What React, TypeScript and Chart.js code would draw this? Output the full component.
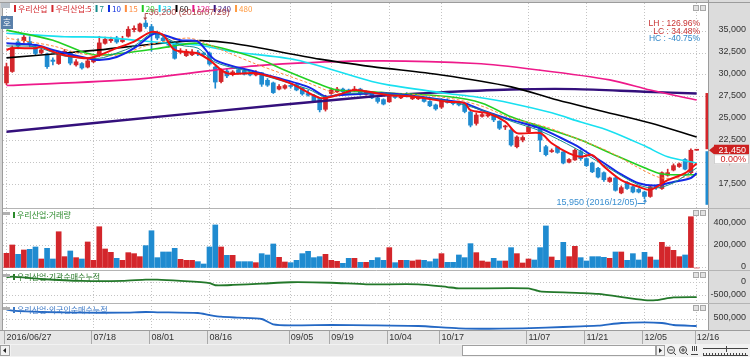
import React, { useEffect, useRef } from "react";
import { Chart, registerables } from "chart.js";

Chart.register(...registerables);

/* ================= data ================= */
const dateTickIndex = [0, 15, 25, 35, 49, 56, 66, 75, 90, 100, 110, 119];
const dateTickLabels = ["2016/06/27", "07/18", "08/01", "08/16", "09/05", "09/19", "10/04", "10/17", "11/07", "11/21", "12/05", "12/16"];

const opens = [29100, 30400, 33750, 33900, 33800, 33200, 32550, 32300, 31700, 31300,
  32400, 32500, 31150, 31300, 30900, 31500, 32200, 33600, 33900, 34200,
  33800, 34400, 35150, 35000, 35900, 35500, 34700, 34200, 33900, 33700,
  32600, 32200, 32300, 32600, 32500, 32500, 30900, 29250, 30450, 30050,
  30600, 30500, 30200, 30000, 30250, 29400, 29100, 28400, 28500, 28800,
  28900, 28500, 27900, 27700, 27350, 26100, 27900, 28100, 28400, 28300,
  28200, 28400, 27800, 28000, 27400, 27200, 26950, 27600, 27400, 27900,
  27300, 27300, 27350, 27000, 26600, 26350, 27150, 26900, 26850, 26650,
  25800, 24500, 25300, 25350, 25500, 24750, 24100, 23750, 21850, 22600,
  23550, 24300, 23900, 21850, 21300, 21800, 21250, 20100, 20350, 21300,
  20500, 20000, 19400, 18900, 17900, 18300, 16600, 17800, 17300, 17000,
  16700, 16200, 17400, 17100, 18600, 19200, 19600, 20400, 18900, 21450];

const highs = [31350, 33300, 34100, 34500, 34350, 33500, 33000, 32500, 31950, 32700,
  32900, 32700, 31750, 31400, 31800, 32100, 34400, 34300, 34300, 34400,
  34400, 35500, 35600, 35900, 36200, 35750, 35000, 34500, 34000, 33800,
  33000, 32900, 32900, 32800, 32600, 32600, 31000, 30700, 30700, 30500,
  30800, 30600, 30300, 30500, 30300, 29600, 29200, 28900, 28900, 28900,
  29000, 28600, 28300, 27800, 27400, 27700, 28400, 28600, 28500, 28400,
  28700, 28500, 28200, 28100, 27500, 27300, 27700, 27700, 27700, 28000,
  27800, 27600, 27400, 27100, 26700, 27300, 27300, 27000, 27000, 26800,
  25900, 25700, 25700, 25600, 25600, 24800, 24300, 23900, 23100, 23100,
  24300, 24500, 24000, 22000, 21600, 21900, 21300, 20500, 21600, 21500,
  20600, 20100, 19500, 19000, 18400, 18400, 17400, 17900, 17400, 17100,
  16800, 17400, 17500, 19000, 19300, 19900, 20000, 20500, 21600, 21450];

const lows = [28900, 30300, 32950, 33700, 33200, 32300, 32400, 30750, 31150, 31200,
  32200, 31150, 31000, 30650, 30800, 31400, 32100, 33500, 33700, 33600,
  33700, 34300, 34900, 34900, 35300, 32700, 34000, 33700, 33200, 31800,
  32400, 32100, 32200, 32200, 32100, 31100, 28500, 29100, 29700, 29900,
  30100, 30000, 29900, 29900, 28700, 28700, 27900, 28300, 28400, 28500,
  28200, 27700, 27600, 26900, 25800, 25900, 27800, 28000, 27900, 27800,
  28100, 27700, 27700, 27300, 26800, 26600, 26900, 27350, 27300, 27500,
  27200, 27200, 26900, 26400, 26000, 26200, 26800, 26600, 26500, 25700,
  24100, 24300, 25200, 25200, 24700, 23800, 23800, 21900, 21700, 22400,
  23400, 24000, 21300, 20800, 21200, 21100, 19900, 20000, 20300, 20300,
  19600, 18900, 18300, 17900, 17800, 16800, 16500, 17000, 16600, 16600,
  15950, 16100, 17000, 17000, 18500, 19100, 19500, 19200, 18800, 21450];

const closes = [30950, 33100, 33300, 34300, 33450, 32450, 32850, 30950, 31550, 32500,
  32700, 31350, 31500, 30800, 31600, 31900, 33650, 34050, 34050, 33750,
  34000, 35200, 35300, 35800, 35500, 34600, 34200, 33900, 33400, 31900,
  32700, 32700, 32600, 32400, 32300, 31250, 29200, 30550, 29900, 30350,
  30200, 30100, 30000, 30300, 28950, 28850, 28000, 28700, 28800, 28700,
  28300, 27850, 27700, 27000, 26050, 27550, 28300, 28400, 28100, 27950,
  28400, 27850, 28050, 27400, 27000, 26700, 27550, 27450, 27550, 27600,
  27650, 27400, 27000, 26500, 26150, 27150, 26900, 26750, 26600, 25850,
  24300, 25450, 25500, 25500, 24900, 23950, 24150, 22050, 22950, 22900,
  24100, 24200, 22600, 20950, 21350, 21200, 20000, 20400, 21450, 20500,
  19700, 19000, 18400, 18100, 18300, 16900, 17200, 17100, 16700, 16700,
  16200, 17300, 17200, 18900, 18900, 19700, 19900, 19300, 21450, 21450];

const volumes = [132000, 207000, 123000, 162000, 168000, 189000, 81000, 177000, 81000, 326000,
  102000, 153000, 93000, 81000, 234000, 69000, 371000, 171000, 141000, 87000,
  69000, 138000, 129000, 102000, 201000, 335000, 93000, 144000, 144000, 177000,
  78000, 69000, 69000, 57000, 36000, 189000, 387000, 189000, 114000, 114000,
  57000, 57000, 57000, 48000, 129000, 117000, 216000, 96000, 54000, 48000,
  69000, 129000, 150000, 93000, 102000, 123000, 69000, 60000, 42000, 87000,
  87000, 51000, 51000, 69000, 93000, 69000, 183000, 48000, 69000, 69000,
  63000, 72000, 69000, 57000, 81000, 129000, 51000, 51000, 117000, 93000,
  219000, 138000, 63000, 54000, 87000, 63000, 63000, 183000, 129000, 45000,
  81000, 72000, 183000, 378000, 99000, 69000, 231000, 102000, 195000, 93000,
  63000, 102000, 102000, 96000, 87000, 144000, 144000, 69000, 129000, 72000,
  141000, 99000, 72000, 231000, 189000, 159000, 102000, 117000, 461000, 0];

// moving averages: [day index, price]
const ma5 = [[0, 32850], [1, 33050], [5, 33050], [6, 33200], [8, 32650], [10, 32250], [14, 31900], [16, 32250], [19, 33050], [22, 33800], [25, 34900], [27, 34550], [29, 32850], [33, 32450], [35, 31700], [38, 30200], [43, 30200], [49, 29050], [54, 27400], [57, 27700], [60, 28300], [64, 27900], [66, 27700], [70, 27550], [76, 26950], [79, 26800], [80, 26000], [83, 25650], [86, 24700], [88, 23400], [92, 23400], [94, 22250], [97, 21100], [99, 20700], [101, 20900], [103, 19600], [106, 18050], [109, 17300], [111, 16950], [114, 18050], [117, 18850], [119, 19950]];
const ma7 = [[0, 33300], [5, 33200], [10, 32150], [16, 31900], [19, 32500], [22, 33300], [25, 34750], [26, 34750], [30, 33400], [33, 33050], [36, 31450], [43, 30200], [52, 28400], [55, 27500], [58, 27900], [66, 27850], [76, 27050], [82, 26000], [87, 24750], [92, 23650], [98, 21700], [103, 19750], [109, 17500], [112, 17150], [115, 17750], [119, 19450]];
const ma10 = [[0, 33600], [5, 33400], [8, 32850], [13, 32050], [16, 31700], [19, 32050], [22, 33050], [25, 34550], [26, 34750], [30, 33950], [33, 33800], [36, 31700], [43, 30350], [52, 28650], [55, 27550], [57, 27700], [66, 27900], [76, 27100], [79, 26800], [82, 26000], [87, 24900], [92, 23950], [98, 22050], [100, 21250], [103, 20000], [106, 18700], [109, 17700], [112, 17450], [115, 17850], [118, 18300], [119, 18850]];
const ma15 = [[0, 34200], [8, 33300], [13, 32400], [19, 32250], [25, 33500], [31, 34200], [33, 33950], [38, 32600], [43, 31250], [52, 29100], [57, 27950], [66, 27950], [76, 27400], [82, 26450], [87, 25100], [93, 24100], [99, 22600], [104, 21250], [109, 19450], [113, 18300], [119, 18500]];
const ma20 = [[0, 35100], [8, 33950], [13, 32650], [16, 32250], [22, 32650], [28, 33200], [33, 33600], [43, 31950], [48, 30550], [54, 28950], [57, 28300], [63, 28100], [66, 27950], [76, 27550], [82, 26800], [87, 25250], [93, 23950], [99, 22600], [104, 21150], [110, 19450], [113, 18750], [119, 18650]];
const ma33 = [[0, 34750], [10, 34350], [16, 34300], [28, 33600], [33, 33400], [39, 32650], [50, 31700], [63, 29250], [66, 28850], [76, 27900], [81, 27500], [87, 26800], [94, 25700], [99, 24650], [104, 23650], [110, 21950], [114, 20700], [119, 20000]];
const ma60 = [[0, 31950], [10, 32500], [16, 32850], [25, 33500], [33, 33900], [39, 33600], [54, 31800], [63, 30950], [75, 30000], [87, 28650], [95, 27150], [102, 26000], [111, 24550], [119, 22950]];
const ma120 = [[0, 28800], [22, 29500], [36, 30550], [45, 31150], [63, 31600], [81, 31300], [92, 30550], [104, 29450], [111, 28300], [119, 27150]];
const ma240 = [[0, 23550], [33, 25700], [63, 27550], [74, 28000], [87, 28350], [98, 28400], [110, 28100], [119, 27900]];

const instCum = [[0, 200000], [1, 225000], [6, 135000], [13, 60000], [20, 60000], [24, 110000], [26, 110000], [30, 60000], [35, -20000], [36, -105000], [39, -95000], [44, -45000], [49, 10000], [56, -10000], [62, -70000], [71, -70000], [76, -175000], [78, -225000], [90, -225000], [92, -345000], [99, -405000], [102, -440000], [110, -675000], [112, -675000], [115, -570000], [119, -560000]];
const foreignCum = [[0, 965000], [1, 915000], [6, 850000], [13, 815000], [20, 815000], [24, 850000], [26, 835000], [33, 800000], [35, 700000], [37, 615000], [40, 565000], [44, 500000], [46, 235000], [49, 185000], [56, 200000], [63, 185000], [71, 150000], [78, 35000], [85, 15000], [93, 65000], [99, 135000], [102, 165000], [106, 300000], [110, 335000], [113, 300000], [115, 200000], [119, 150000]];

const priceTicks = [17500, 20000, 22500, 25000, 27500, 30000, 32500, 35000];
const volumeTicks = [0, 200000, 400000];
const instTicks = [0, -500000];
const foreignTicks = [500000];

const legendNames = ["우리산업", "우리산업:5", "7", "10", "15", "20", "33", "60", "120", "240", "480"];
const panelTitles = ["우리산업:거래량", "우리산업:기관순매수누적", "우리산업:외국인순매수누적"];
const statTexts = ["LH : 126.96%", "LC : 34.48%", "HC : -40.75%"];
const highMark = { index: 24, price: 36200, text: "36,200 (2016/07/29)" };
const lowMark = { index: 110, price: 15950, text: "15,950 (2016/12/05)" };
const lastPrice = 21450;
const lastPriceText = "21,450";
const lastChangeText = "0.00%";
const rangeTop = 27950;
const rangeBottom = 15250;

/* ================= style ================= */
const W = 750;
const H = 357;
const FONT_L = "'Liberation Sans', Arial, sans-serif";
const FONT_K = "'Noto Sans CJK KR', 'Noto Sans', sans-serif";
const UP = "#d3262b";
const DOWN = "#1f8bd0";
const legendColors = ["#d3262b", "#d3262b", "#138a8a", "#1030e0", "#ff8a3d", "#1fc81f", "#10d0e8", "#000000", "#e8168c", "#3a1680", "#ff9a40"];
const titleColors = ["#2a8a2a", "#2a7a2a", "#3b78c6"];
const statColors = ["#c83232", "#c83232", "#2f86c8"];

const fmt = (v: number) => v.toLocaleString("en-US");

function lineSet(points: number[][], axis: string, color: string, width: number, extra: any = {}) {
  return {
    type: "line",
    data: points.map(([x, y]) => ({ x, y })),
    xAxisID: "x",
    yAxisID: axis,
    borderColor: color,
    borderWidth: width,
    pointRadius: 0,
    pointHoverRadius: 0,
    fill: false,
    tension: 0.3,
    order: 1,
    ...extra,
  };
}

function yAxis(weight: number, min: number, max: number, ticks: number[]) {
  return {
    type: "linear",
    position: "right",
    stack: "panels",
    stackWeight: weight,
    min,
    max,
    bounds: "data",
    grid: { color: "#c4c4c4", drawTicks: false, lineWidth: 1 },
    border: { display: false, dash: [1, 2] },
    ticks: { display: false },
    afterBuildTicks: (s: any) => {
      s.ticks = ticks.map((v) => ({ value: v }));
    },
    afterFit: (s: any) => {
      s.width = 42;
    },
  };
}

const decor = {
  id: "decor",
  beforeDraw(chart: any) {
    const { ctx, chartArea: a } = chart;
    ctx.save();
    ctx.fillStyle = "#d4d4d4";
    ctx.fillRect(0, 0, W, H);
    ctx.fillStyle = "#dcdcdc";
    ctx.fillRect(a.right, 0, W - a.right, a.bottom);
    ctx.fillStyle = "#ffffff";
    ctx.fillRect(a.left, a.top, a.right - a.left, a.bottom - a.top);
    ctx.fillStyle = "#e6e6e6";
    ctx.fillRect(0, a.bottom, W, 14);
    ctx.restore();
  },
  afterDraw(chart: any) {
    const { ctx, chartArea: a } = chart;
    const xs = chart.scales.x;
    const yP = chart.scales.y;
    const yV = chart.scales.yVol;
    const yI = chart.scales.yInst;
    const yF = chart.scales.yFor;
    ctx.save();

    // frame + separators
    ctx.lineWidth = 1;
    ctx.strokeStyle = "#9c9c9c";
    ctx.beginPath();
    ctx.moveTo(a.left - 0.5, a.top);
    ctx.lineTo(a.left - 0.5, a.bottom);
    ctx.moveTo(a.right + 0.5, 0);
    ctx.lineTo(a.right + 0.5, a.bottom);
    ctx.moveTo(0, a.bottom + 0.5);
    ctx.lineTo(W, a.bottom + 0.5);
    ctx.moveTo(0, a.top - 0.5);
    ctx.lineTo(W, a.top - 0.5);
    ctx.stroke();
    ctx.strokeStyle = "#b4b4b4";
    ctx.beginPath();
    for (const s of [yP, yV, yI]) {
      ctx.moveTo(a.left, Math.round(s.bottom) + 0.5);
      ctx.lineTo(W, Math.round(s.bottom) + 0.5);
    }
    ctx.stroke();

    // date band separators
    ctx.strokeStyle = "#aaaaaa";
    ctx.beginPath();
    for (const i of dateTickIndex) {
      const px = Math.round(xs.getPixelForValue(i)) - 1.5;
      ctx.moveTo(px, a.bottom + 1);
      ctx.lineTo(px, a.bottom + 14);
    }
    ctx.stroke();

    // y labels
    ctx.font = `9px ${FONT_L}`;
    ctx.fillStyle = "#333333";
    ctx.textAlign = "right";
    ctx.textBaseline = "middle";
    const labelSets: [any, number[]][] = [[yP, priceTicks], [yV, volumeTicks], [yI, instTicks], [yF, foreignTicks]];
    for (const [s, ticks] of labelSets) {
      for (const v of ticks) ctx.fillText(fmt(v), 746, s.getPixelForValue(v) - 1);
    }

    // price range bar + current price marker
    const py = yP.getPixelForValue(lastPrice);
    ctx.fillStyle = UP;
    ctx.fillRect(705.5, yP.getPixelForValue(rangeTop), 2.5, py - 1 - yP.getPixelForValue(rangeTop));
    ctx.fillStyle = DOWN;
    ctx.fillRect(705.5, py + 1, 2.5, yP.getPixelForValue(rangeBottom) - py - 1);
    ctx.fillStyle = "#cc2020";
    ctx.beginPath();
    ctx.moveTo(709, py);
    ctx.lineTo(714, py - 4);
    ctx.lineTo(714, py + 4);
    ctx.closePath();
    ctx.fill();
    ctx.fillRect(714, py - 5.5, 35, 10);
    ctx.fillStyle = "#ffffff";
    ctx.fillRect(714, py + 4.5, 35, 9.5);
    ctx.strokeStyle = "#d0d0d0";
    ctx.strokeRect(714.5, py + 4.5, 34, 9);
    ctx.fillStyle = "#ffffff";
    ctx.fillText(lastPriceText, 746, py);
    ctx.fillStyle = "#d02020";
    ctx.fillText(lastChangeText, 746, py + 9.5);

    // top legend
    ctx.textAlign = "left";
    ctx.font = `8px ${FONT_K}`;
    let lx = 14;
    legendNames.forEach((name, k) => {
      ctx.fillStyle = legendColors[k];
      ctx.fillRect(lx, 5, 2, 7);
      lx += 4;
      ctx.fillText(name, lx, 8.5);
      lx += ctx.measureText(name).width + 4;
    });

    // panel titles
    [yV, yI, yF].forEach((s, k) => {
      const ty = s.top + 7;
      ctx.fillStyle = "#b0b0b0";
      ctx.fillRect(3, s.top + 4, 7, 3);
      ctx.fillStyle = titleColors[k];
      ctx.fillRect(13, ty - 3, 2, 6);
      ctx.fillText(panelTitles[k], 17, ty);
    });

    // top-left icons
    ctx.fillStyle = "#b8c0c8";
    ctx.fillRect(1, 3, 9, 5);
    ctx.fillStyle = "#5a80aa";
    ctx.fillRect(1, 16, 12, 13);
    ctx.fillStyle = "#ffffff";
    ctx.textAlign = "center";
    ctx.font = `9px ${FONT_K}`;
    ctx.fillText("호", 7, 22.5);

    // high annotation
    const hx = xs.getPixelForValue(highMark.index);
    const hy = yP.getPixelForValue(highMark.price);
    ctx.strokeStyle = "#b04a4a";
    ctx.fillStyle = "#b04a4a";
    ctx.beginPath();
    ctx.moveTo(hx + 2.5, 13.5);
    ctx.lineTo(hx - 0.5, 13.5);
    ctx.lineTo(hx - 0.5, hy - 2);
    ctx.stroke();
    ctx.beginPath();
    ctx.moveTo(hx - 2.5, hy - 3);
    ctx.lineTo(hx + 1.5, hy - 3);
    ctx.lineTo(hx - 0.5, hy);
    ctx.closePath();
    ctx.fill();
    ctx.textAlign = "left";
    ctx.font = `9px ${FONT_L}`;
    ctx.fillText(highMark.text, hx + 3, 13);

    // low annotation
    const lpx = xs.getPixelForValue(lowMark.index);
    const lpy = yP.getPixelForValue(lowMark.price);
    ctx.strokeStyle = "#3a8fd0";
    ctx.fillStyle = "#3a8fd0";
    ctx.beginPath();
    ctx.moveTo(lpx - 7, 203.5);
    ctx.lineTo(lpx + 0.5, 203.5);
    ctx.lineTo(lpx + 0.5, lpy + 2);
    ctx.stroke();
    ctx.beginPath();
    ctx.moveTo(lpx - 1.5, lpy + 3);
    ctx.lineTo(lpx + 2.5, lpy + 3);
    ctx.lineTo(lpx + 0.5, lpy);
    ctx.closePath();
    ctx.fill();
    ctx.textAlign = "right";
    ctx.fillText(lowMark.text, lpx - 7, 203);

    // stats
    ctx.font = `8.5px ${FONT_L}`;
    statTexts.forEach((t, k) => {
      ctx.fillStyle = statColors[k];
      ctx.fillText(t, 700, 24 + k * 7.5);
    });

    // panel buttons
    ctx.lineWidth = 1;
    for (const s of [yP, yV, yI, yF]) {
      const t = Math.round(s.top) + 2;
      for (const bx of [693, 700]) {
        ctx.fillStyle = "#e2e2e2";
        ctx.fillRect(bx, t, 5, 5);
        ctx.strokeStyle = "#a8a8a8";
        ctx.strokeRect(bx + 0.5, t + 0.5, 5, 5);
      }
    }

    // scrollbar row
    const sy = a.bottom + 14;
    ctx.fillStyle = "#f2f2f2";
    ctx.fillRect(0, sy, W, H - sy);
    ctx.fillStyle = "#e6e6e6";
    ctx.fillRect(11, sy + 1, 645, 11);
    ctx.fillStyle = "#ffffff";
    ctx.fillRect(462, sy + 1, 193, 11);
    ctx.strokeStyle = "#a0a0a0";
    ctx.strokeRect(462.5, sy + 1.5, 193, 10);
    ctx.strokeRect(0.5, sy + 1.5, 9, 10);
    ctx.strokeRect(656.5, sy + 1.5, 8, 10);
    ctx.fillStyle = "#222222";
    ctx.beginPath();
    ctx.moveTo(3, sy + 6.5);
    ctx.lineTo(6, sy + 4);
    ctx.lineTo(6, sy + 9);
    ctx.closePath();
    ctx.fill();
    ctx.beginPath();
    ctx.moveTo(662, sy + 6.5);
    ctx.lineTo(659, sy + 4);
    ctx.lineTo(659, sy + 9);
    ctx.closePath();
    ctx.fill();
    ctx.strokeStyle = "#444444";
    for (const cx of [671, 683]) {
      ctx.beginPath();
      ctx.arc(cx, sy + 6, 3.5, 0, Math.PI * 2);
      ctx.moveTo(cx + 2.5, sy + 8.5);
      ctx.lineTo(cx + 5, sy + 11);
      ctx.stroke();
    }
    ctx.beginPath();
    ctx.moveTo(669, sy + 6);
    ctx.lineTo(673, sy + 6);
    ctx.moveTo(681, sy + 6);
    ctx.lineTo(685, sy + 6);
    ctx.moveTo(683, sy + 4);
    ctx.lineTo(683, sy + 8);
    for (const vx of [692.5, 694.5, 696.5]) {
      ctx.moveTo(vx, sy + 2);
      ctx.lineTo(vx, sy + 7);
    }
    ctx.moveTo(691, sy + 10.5);
    ctx.lineTo(698, sy + 10.5);
    ctx.moveTo(703, sy + 4.5);
    ctx.lineTo(748, sy + 4.5);
    ctx.moveTo(726.5, sy + 2);
    ctx.lineTo(726.5, sy + 8);
    for (let tx = 703.5; tx <= 748; tx += 3) {
      ctx.moveTo(tx, sy + 9);
      ctx.lineTo(tx, sy + 12);
    }
    ctx.moveTo(703, sy + 11.5);
    ctx.lineTo(748, sy + 11.5);
    ctx.stroke();

    ctx.restore();
  },
};

export default function App() {
  const ref = useRef<HTMLCanvasElement>(null);

  useEffect(() => {
    const canvas = ref.current;
    if (!canvas) return;
    const idx = closes.map((_, i) => i);
    const dirColor = idx.map((i) => (closes[i] >= opens[i] ? UP : DOWN));

    const chart = new Chart(canvas, {
      type: "bar",
      data: {
        datasets: [
          lineSet(ma5, "y", "#f01010", 2),
          lineSet(ma7, "y", "#168c8c", 1),
          lineSet(ma10, "y", "#1428e6", 2),
          lineSet(ma15, "y", "#ff8a3d", 1, { borderDash: [3, 2] }),
          lineSet(ma20, "y", "#22d022", 1.6),
          lineSet(ma33, "y", "#18e0f0", 1.6),
          lineSet(ma60, "y", "#000000", 1.6),
          lineSet(ma120, "y", "#ee1a8a", 1.6),
          lineSet(ma240, "y", "#34107c", 2.4),
          {
            type: "bar",
            data: idx.map((i) => ({ x: i, y: [opens[i], closes[i]] })),
            xAxisID: "x",
            yAxisID: "y",
            backgroundColor: dirColor,
            borderWidth: 0,
            barThickness: 4,
            minBarLength: 1,
            grouped: false,
            order: 3,
          },
          {
            type: "bar",
            data: idx.map((i) => ({ x: i, y: [lows[i], highs[i]] })),
            xAxisID: "x",
            yAxisID: "y",
            backgroundColor: dirColor,
            borderWidth: 0,
            barThickness: 1,
            grouped: false,
            order: 4,
          },
          {
            type: "bar",
            data: idx.map((i) => ({ x: i, y: volumes[i] })),
            xAxisID: "x",
            yAxisID: "yVol",
            backgroundColor: dirColor,
            borderWidth: 0,
            barThickness: 5,
            grouped: false,
            order: 3,
          },
          lineSet(instCum, "yInst", "#23782a", 1.8, { tension: 0.2 }),
          lineSet(foreignCum, "yFor", "#2468c4", 1.8, { tension: 0.2 }),
        ] as any,
      },
      options: {
        responsive: false,
        maintainAspectRatio: false,
        devicePixelRatio: 1,
        animation: false,
        events: [],
        layout: { padding: { left: 3, top: 3, right: 0, bottom: 13 } },
        plugins: { legend: { display: false }, tooltip: { enabled: false }, title: { display: false } },
        scales: {
          x: {
            type: "linear",
            position: "bottom",
            min: -0.6,
            max: 120.95,
            bounds: "data",
            offset: false,
            grid: { color: "#c4c4c4", drawTicks: false, offset: false },
            border: { display: false, dash: [1, 2] },
            ticks: {
              autoSkip: false,
              maxRotation: 0,
              minRotation: 0,
              align: "start",
              padding: 2,
              color: "#333333",
              font: { family: FONT_L, size: 9 },
              callback: (v: any) => {
                const k = dateTickIndex.indexOf(Number(v));
                return k >= 0 ? dateTickLabels[k] : "";
              },
            },
            afterBuildTicks: (s: any) => {
              s.ticks = dateTickIndex.map((v) => ({ value: v }));
            },
            afterFit: (s: any) => {
              s.height = 14;
            },
          },
          y: yAxis(205, 14886, 38182, priceTicks),
          yVol: yAxis(62, -17978, 539330, volumeTicks),
          yInst: yAxis(33, -788462, 480769, instTicks),
          yFor: yAxis(27, -50000, 1300000, foreignTicks),
        } as any,
      },
      plugins: [decor],
    } as any);

    return () => chart.destroy();
  }, []);

  return (
    <div style={{ position: "fixed", left: 0, top: 0, width: W, height: H, margin: 0, padding: 0 }}>
      <canvas ref={ref} width={W} height={H} style={{ display: "block", width: W, height: H }} />
    </div>
  );
}
